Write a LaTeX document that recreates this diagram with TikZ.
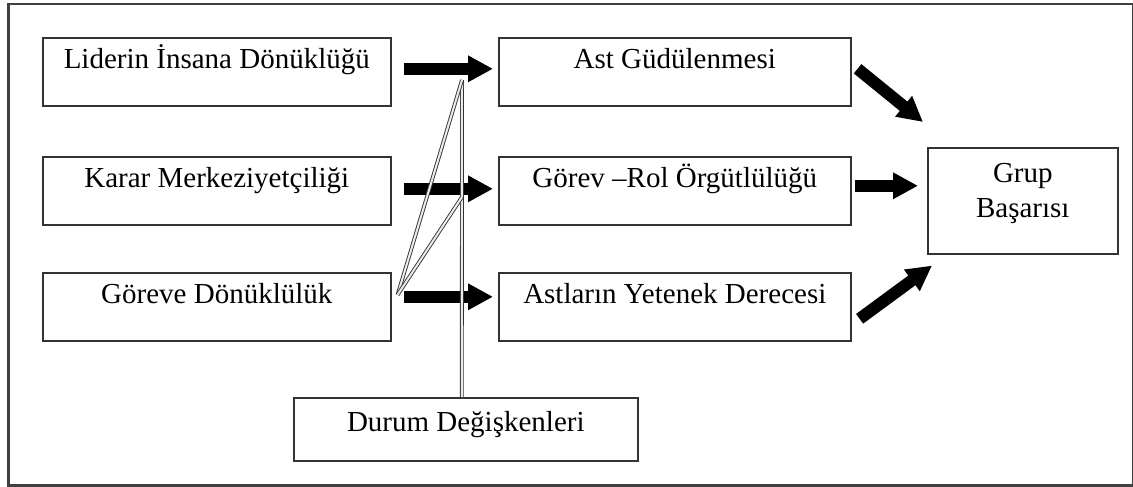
\documentclass[tikz,border=0pt]{standalone}
\usepackage{fontspec}
\setmainfont{Liberation Serif}
\usetikzlibrary{arrows.meta}
\begin{document}
\begin{tikzpicture}[x=1pt,y=-1pt,
  font=\fontsize{29}{35}\selectfont,
  box/.style={draw=black!80, line width=1.6pt, inner sep=0pt, anchor=north west,
              text height=31pt, text depth=37pt},
  leftbox/.style={box, minimum width=348pt},
  midbox/.style={box, minimum width=352pt},
  blockarrow/.style={line width=12pt, -{Triangle[length=25pt,width=25pt]}},
  link/.style={draw=black!80, double=black!8, double distance=2pt, line width=0.9pt}
]
\useasboundingbox (0,0) rectangle (1133,487);

% outer frame
\node[draw=black!75, line width=2.5pt, inner sep=0pt, minimum width=1125pt,
      minimum height=481pt, anchor=north west] (frame) at (7,3) {};

% leader style factors
\node[leftbox] (L1) at (42,37)  {Liderin İnsana Dönüklüğü};
\node[leftbox] (L2) at (42,156) {Karar Merkeziyetçiliği};
\node[leftbox] (L3) at (42,272) {Göreve Dönüklülük};

% intermediate variables
\node[midbox] (M1) at (498,37)  {Ast Güdülenmesi};
\node[midbox] (M2) at (498,156) {Görev –Rol Örgütlülüğü};
\node[midbox] (M3) at (498,272) {Astların Yetenek Derecesi};

% outcome
\node[box, text width=190pt, align=center, text height=35pt, text depth=71pt]
  (G) at (927,147) {Grup\\Başarısı};

% situational variables
\node[box, minimum width=344pt, text height=34pt, text depth=29pt]
  (D) at (293,397) {Durum Değişkenleri};

% block arrows
\draw[blockarrow] ([xshift=12pt,yshift=3pt]L1.east) -- ([xshift=-5pt,yshift=3pt]M1.west);
\draw[blockarrow] ([xshift=12pt,yshift=2pt]L2.east) -- ([xshift=-5pt,yshift=2pt]M2.west);
\draw[blockarrow] ([xshift=12pt,yshift=10pt]L3.east) -- ([xshift=-5pt,yshift=10pt]M3.west);

\draw[blockarrow] ([xshift=6pt,yshift=3pt]M1.east) -- ([xshift=-4pt,yshift=25pt]G.north west);
\draw[blockarrow] ([xshift=3pt,yshift=5pt]M2.east) -- ([xshift=-9pt,yshift=15pt]G.west);
\draw[blockarrow] ([xshift=8pt,yshift=-12pt]M3.east) -- ([xshift=5pt,yshift=-11pt]G.south west);

% moderating links
\coordinate (fan) at ([xshift=6pt,yshift=12pt]L3.east);
\coordinate (top) at (462,80);
\coordinate (mid) at (462,197);
\draw[link] ([xshift=-4pt]D.north) -- (top);
\draw[link] (fan) -- (top);
\draw[link] (fan) -- (mid);
\end{tikzpicture}
\end{document}
